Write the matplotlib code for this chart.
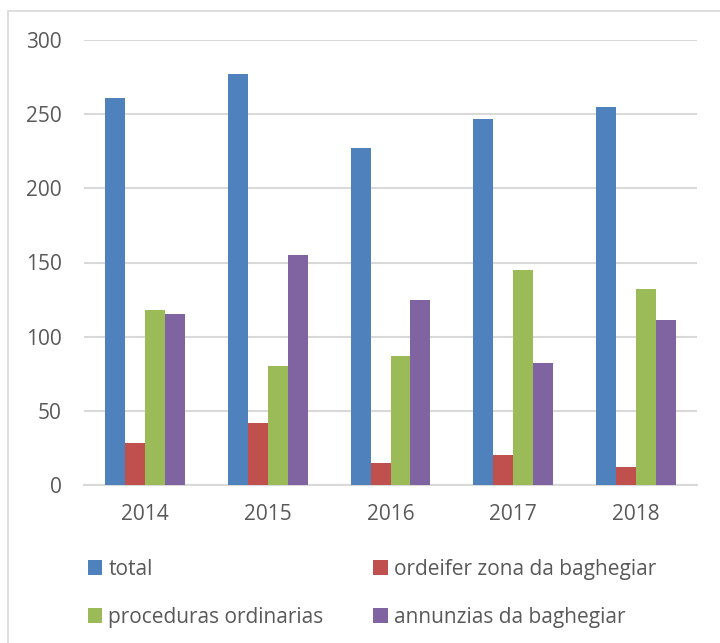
import numpy as np
import matplotlib.pyplot as plt
from matplotlib.patches import Rectangle

years = ["2014", "2015", "2016", "2017", "2018"]
total = [261, 277, 227, 247, 255]
ordeifer = [28, 42, 15, 20, 12]
proceduras = [118, 80, 87, 145, 132]
annunzias = [115, 155, 125, 82, 111]

series = [
    ("total", total, "#4F81BD"),
    ("ordeifer zona da baghegiar", ordeifer, "#C0504D"),
    ("proceduras ordinarias", proceduras, "#9BBB59"),
    ("annunzias da baghegiar", annunzias, "#8064A2"),
]

plt.rcParams['font.family'] = ['Open Sans', 'DejaVu Sans']
txt = "#595959"
grid = "#D9D9D9"
fs = 15

fig = plt.figure(figsize=(7.2, 6.43), dpi=100)
# outer chart frame
fig.patches.append(Rectangle((8 / 720, -0.1), 1.2, 1 - 11 / 643 + 0.1,
                             transform=fig.transFigure, fill=False,
                             edgecolor=grid, linewidth=1.2))

ax = fig.add_axes([84 / 720, 1 - 485 / 643, 613 / 720, 445 / 643])

x = np.arange(len(years))
w = 0.163
handles = {}
for i, (name, vals, col) in enumerate(series):
    b = ax.bar(x + (i - 1.5) * w, vals, w, color=col, zorder=3)
    handles[name] = b

ax.set_xlim(-0.5, len(years) - 0.5)
ax.set_ylim(0, 300)
ax.set_yticks(range(0, 301, 50))
ax.set_xticks(x)
ax.set_xticklabels(years)
ax.yaxis.grid(True, color=grid, linewidth=1.5, zorder=0)
for s in ["top", "right", "left"]:
    ax.spines[s].set_visible(False)
ax.spines["bottom"].set_color(grid)
ax.spines["bottom"].set_linewidth(1.5)
ax.tick_params(axis="both", length=0, labelsize=fs, colors=txt)
ax.tick_params(axis="y", pad=16)
ax.tick_params(axis="x", pad=14)

order = ["total", "proceduras ordinarias", "ordeifer zona da baghegiar", "annunzias da baghegiar"]
leg = fig.legend([handles[n] for n in order], order, ncol=2, loc="upper left",
                 bbox_to_anchor=(69 / 720, 1 - 540 / 643), frameon=False,
                 fontsize=fs, handlelength=0.68, handleheight=0.68,
                 handletextpad=0.3, columnspacing=2.4, labelspacing=1.3)
for t in leg.get_texts():
    t.set_color(txt)

fig.savefig("out.png", dpi=100)
